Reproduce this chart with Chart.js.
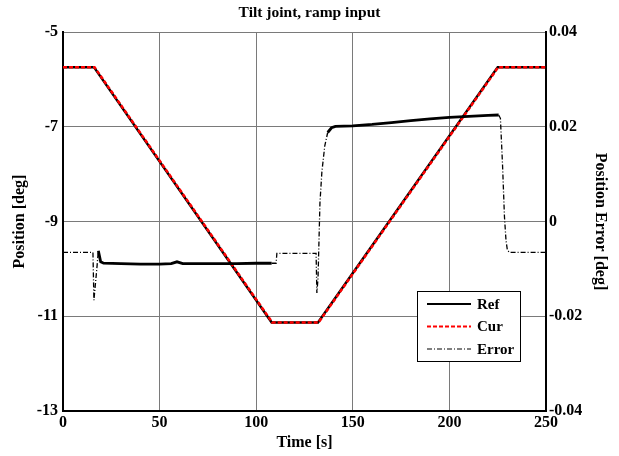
<!DOCTYPE html>
<html>
<head>
<meta charset="utf-8">
<script src="https://cdn.jsdelivr.net/npm/chart.js@4.4.1/dist/chart.umd.min.js"></script>
<style>
  html, body { margin: 0; padding: 0; background: #fff; }
  #wrap { width: 619px; height: 456px; }
</style>
</head>
<body>
<div id="wrap"><canvas id="tiltChart"></canvas></div>
<script>
// Reference / current position (deg), left axis
const refTime = [0, 16, 108, 132, 225, 250];
const refPos  = [-5.74, -5.74, -11.13, -11.13, -5.74, -5.74];
const curTime = [0, 16.3, 108.3, 132.3, 225.3, 250];
const curPos  = [-5.74, -5.74, -11.13, -11.13, -5.74, -5.74];

// Position error (deg), right axis
const errTime = [0, 15.5, 16, 17.5, 18.3, 19.5, 21, 30, 40, 50, 56, 59, 62, 70, 80, 90, 100, 108, 110.3, 110.7,
                 131, 131.4, 132, 132.5, 133, 134, 135.5, 137, 139, 141, 150, 160, 170, 180, 190, 200, 210, 220, 225.5,
                 226.4, 227.5, 228.5, 229.3, 230, 231, 250];
const errVal  = [-0.0065, -0.0065, -0.0166, -0.0100, -0.0062, -0.0085, -0.0088, -0.0089, -0.0090, -0.0090, -0.0089, -0.0085, -0.0089, -0.0089, -0.0089, -0.0089, -0.0088, -0.0088, -0.0088, -0.0067,
                 -0.0067, -0.0151, -0.0120, -0.0040, 0.0040, 0.0105, 0.0160, 0.0188, 0.0198, 0.0201, 0.0202, 0.0205, 0.0209, 0.0213, 0.0217, 0.0220, 0.0222, 0.0224, 0.0225,
                 0.0218, 0.0120, 0.0010, -0.0040, -0.0060, -0.0065, -0.0065];

const timeTicks = [0, 50, 100, 150, 200, 250];
const posTicks  = [-13, -11, -9, -7, -5];
const errTicks  = [-0.04, -0.02, 0, 0.02, 0.04];

const toXY = (xs, ys) => xs.map((x, i) => ({x: x, y: ys[i]}));

// parts of the error trace that are noisy and look solid/thick
const noisy = [[18.3, 108], [136, 225.5]];
const inNoisy = (ctx) => noisy.some(r => ctx.p0.parsed.x >= r[0] && ctx.p1.parsed.x <= r[1]);

Chart.defaults.font.family = "'Liberation Serif', 'Times New Roman', serif";
Chart.defaults.font.weight = 'bold';
Chart.defaults.font.size = 16;
Chart.defaults.color = '#000';

const gridColor = '#7a7a7a';

const innerLegend = {
  id: 'innerLegend',
  afterDraw(chart) {
    const {ctx, chartArea} = chart;
    const w = 103, h = 70;
    const x0 = chartArea.right - 26 - w;
    const y0 = chartArea.bottom - 50 - h;
    ctx.save();
    ctx.fillStyle = '#fff';
    ctx.fillRect(x0, y0, w, h);
    ctx.strokeStyle = '#000';
    ctx.lineWidth = 1;
    ctx.strokeRect(x0 + 0.5, y0 + 0.5, w, h);
    ctx.font = "bold 15px 'Liberation Serif', serif";
    ctx.textBaseline = 'middle';
    ctx.fillStyle = '#000';
    chart.data.datasets.forEach((ds, i) => {
      const yy = y0 + 13 + i * 22.5;
      ctx.beginPath();
      ctx.strokeStyle = ds.borderColor;
      ctx.lineWidth = i === 2 ? 1.2 : 2;
      ctx.setLineDash(ds.borderDash || []);
      ctx.moveTo(x0 + 10, yy);
      ctx.lineTo(x0 + 54, yy);
      ctx.stroke();
      ctx.setLineDash([]);
      ctx.fillText(ds.label, x0 + 60, yy + 1);
    });
    ctx.restore();
  }
};

new Chart(document.getElementById('tiltChart').getContext('2d'), {
  type: 'line',
  data: {
    datasets: [{
      label: 'Ref',
      data: toXY(refTime, refPos),
      yAxisID: 'y',
      borderColor: '#000',
      borderWidth: 2.5,
      pointRadius: 0,
      order: 3
    }, {
      label: 'Cur',
      data: toXY(curTime, curPos),
      yAxisID: 'y',
      borderColor: '#ff0000',
      borderWidth: 2.5,
      borderDash: [4, 2],
      pointRadius: 0,
      order: 2
    }, {
      label: 'Error',
      data: toXY(errTime, errVal),
      yAxisID: 'y2',
      borderColor: '#000',
      borderWidth: 1.2,
      borderDash: [5, 2, 1, 2],
      pointRadius: 0,
      order: 1,
      segment: {
        borderWidth: ctx => inNoisy(ctx) ? 2.8 : 1.3,
        borderDash: ctx => inNoisy(ctx) ? [] : [5, 2, 1, 2]
      }
    }]
  },
  options: {
    responsive: true,
    maintainAspectRatio: false,
    animation: false,
    layout: { padding: 0 },
    plugins: {
      legend: { display: false },
      tooltip: { enabled: false },
      title: {
        display: true,
        text: 'Tilt joint, ramp input',
        font: { size: 15.5, weight: 'bold' },
        padding: { top: 3.5, bottom: 10 }
      }
    },
    scales: {
      x: {
        type: 'linear',
        min: 0, max: 250,
        afterBuildTicks: s => { s.ticks = timeTicks.map(v => ({value: v})); },
        afterFit: s => { s.height = 45; },
        ticks: { padding: 2, maxRotation: 0 },
        grid: { color: gridColor, drawTicks: false },
        border: { color: '#000', width: 2 },
        title: { display: true, text: 'Time [s]', padding: { bottom: 4 } }
      },
      y: {
        position: 'left',
        min: -13, max: -5,
        afterBuildTicks: s => { s.ticks = posTicks.map(v => ({value: v})); },
        afterFit: s => { s.width = 63; },
        ticks: { padding: 5 },
        grid: { color: gridColor, drawTicks: false },
        border: { color: '#000', width: 2 },
        title: { display: true, text: 'Position [deg]', padding: { top: 10 } }
      },
      y2: {
        position: 'right',
        min: -0.04, max: 0.04,
        afterBuildTicks: s => { s.ticks = errTicks.map(v => ({value: v})); },
        afterFit: s => { s.width = 73; },
        ticks: { padding: 3, callback: v => String(Number(v.toFixed(2))) },
        grid: { drawOnChartArea: false, drawTicks: false },
        border: { color: '#000', width: 2 },
        title: { display: true, text: 'Position Error [deg]', padding: { top: 9 } }
      }
    }
  },
  plugins: [innerLegend]
});
</script>
</body>
</html>
